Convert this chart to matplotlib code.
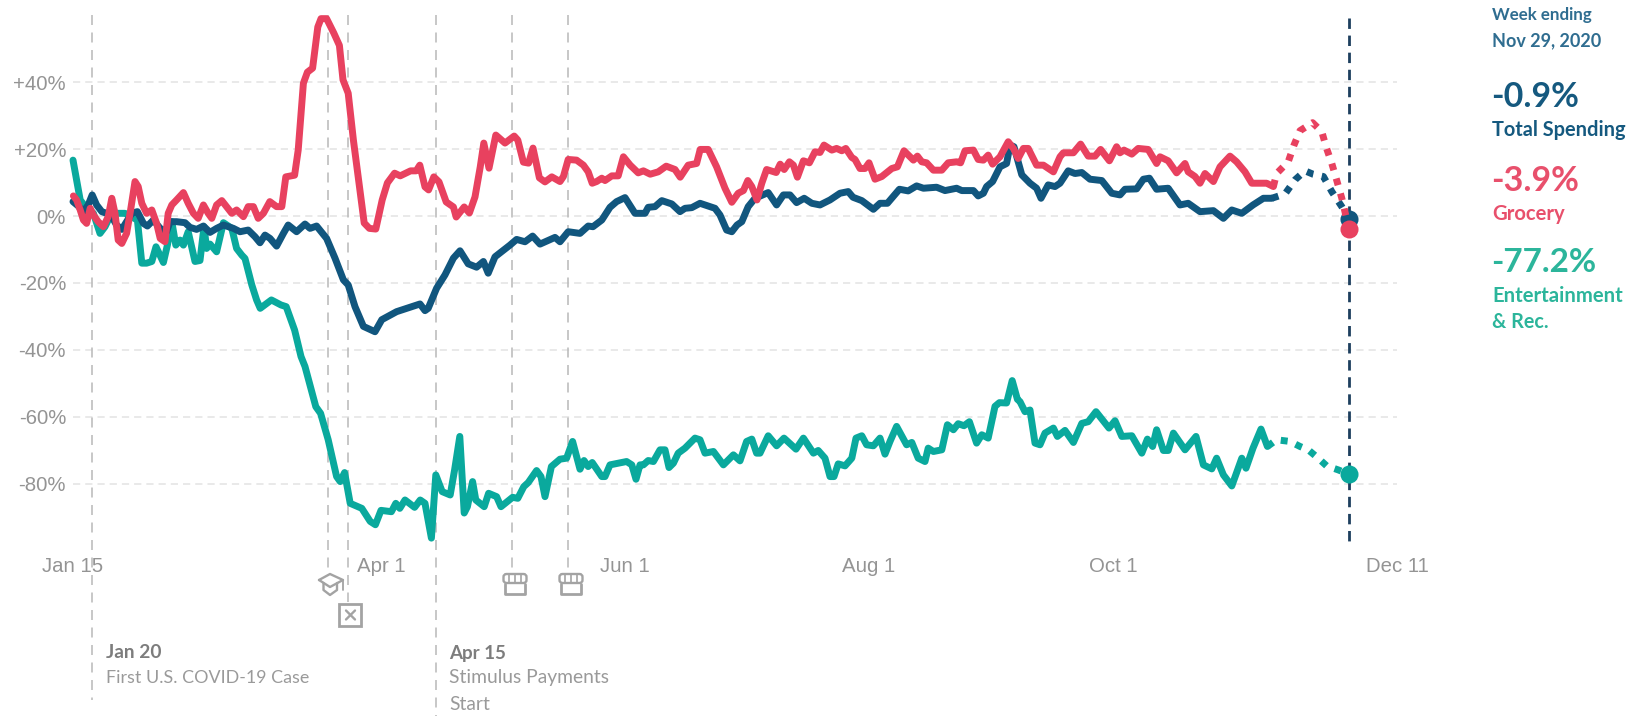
import matplotlib
matplotlib.use("Agg")
import matplotlib.pyplot as plt
from matplotlib.patches import Rectangle, FancyBboxPatch
from matplotlib.transforms import blended_transform_factory

grocery_days = [0.1,0.9,1.8,2.6,3.4,4.3,5.1,6.3,7.6,8.8,9.7,10.5,11.3,12.2,13.4,14.4,15.5,16.3,17.2,18.4,19.7,20.9,21.8,23,23.8,24.7,25.9,27.6,28.8,30.1,31.3,32.6,33.8,34.7,35.9,37.2,38.4,39.7,40.9,42.6,43.8,45.1,46.3,47.6,49.2,50.9,52.2,
 53.2,55.4,56.3,57.6,58.6,59.9,61.2,62,63.4,65.2,66.6,67.5,68.8,70.1,71.5,72.8,74.1,75.7,77.3,78.6,80.4,81.8,84.4,85.8,86.7,88,88.9,90.2,91.5,93.3,95.1,95.8,97.8,99.1,100.5,101.8,102.7,104,105.7,108,110.3,111.2,112.6,113.9,115,116.6,118,119.7,
 121.75,122.6,123.8,125.9,127.6,128.8,129.8,130.9,132.2,133,134.7,136.3,137.6,139.3,141.3,142.6,144.3,146.3,148.3,150.5,151.8,153.8,155.9,156.8,158.8,160.9,163,164.7,166.3,167.6,168.7,169.7,171,172.2,173.4,175.8,176.8,177.8,179.1,180.1,181.1,182.6,184.1,
 185.5,186.75,187.75,189.7,190.9,192.2,193.2,194.7,195.5,196.75,198,199,200.5,202.2,204.7,206.1,207.75,210.1,211.1,212.2,213.4,215.1,217.2,218.8,220.9,221.9,223,225.1,226.3,227.6,228.8,229.9,231.75,233.8,235.1,236.3,237.6,238.8,240.9,242.6,245.1,
 246.75,247.6,250.1,251.9,253.8,255.5,256.9,259.1,260.9,261.75,262.75,264.7,266.3,268.8,270.9,271.75,273.8,275.9,278,278.8,280.5,281.75,283,285.1,286.75,289.25,290.9,293,294.7,296.4,298.4,300.1]
grocery_vals = [6,4.8,1.8,-1.2,-2.2,2.3,0.3,-1.7,-3.2,-0.2,5.3,0.8,-7.2,-8.2,-5.2,1.8,10.3,8.8,3.8,0.8,1.8,-2.2,-6.7,-7.7,0.8,3.3,4.8,7,3.8,0.8,-0.7,3.3,0.8,-0.7,3.3,4.6,2.8,0.8,1.8,-0.2,2.8,2.8,-0.7,0.8,4.3,2.8,2.8,
 11.7,12.2,19.7,39.7,43,44.2,56.5,59,59,54.7,51,40.7,36.7,22.7,9.9,-2.1,-3.7,-3.9,4.8,9.9,12.8,12,13.5,13.5,15.2,8.7,7.8,11.7,10.2,4.2,2.7,-0.3,2.7,0.9,5.7,14.6,21.8,14.3,24.2,21.8,23.9,22.7,16.1,15.8,20.3,11.4,10.2,11.7,
 10.3,11.8,16.9,16.7,15.2,13.2,9.8,10.3,11.3,10.6,12,12,17.7,15.2,12.9,13.5,12.5,13.2,14.9,13.9,11.6,15.2,15.7,19.9,19.9,14.7,8.3,4.1,6.8,7.6,10.6,8.8,4.8,9.8,13.9,13,15.5,13.9,16.2,15.2,11.6,16.5,15.9,
 19.2,19,21.2,19.7,20.2,19.5,20.2,17.5,16.9,14.2,14.2,15.9,11,11.8,14.2,14.7,19.5,16.7,17.9,16.2,15.9,13.7,13.7,15.9,16.2,15.9,19.5,19.7,16.9,16.7,18.2,15.5,17.7,22.2,20.2,17.2,20.2,20.2,15.2,15.2,13.2,
 17.7,18.9,18.9,21.5,17.9,17.9,19.9,16.5,20.7,18.9,19.7,18.5,20.2,19.9,15.7,17.7,16.5,12.9,15.7,13.2,11.8,9.8,12.7,10.3,14.7,17.9,16.2,13.2,9.8,9.8,9.8,8.8]
grocery_proj_days = [300.1,300.9,303.8,305.25,306.75,309.9,312.2,313.4,314.7,315.9,317.2,319]
grocery_proj_vals = [8.8,12.7,16.2,21.2,25.5,27.9,25.2,20.2,15.7,10.8,5.3,-3.9]

total_days = [0,1.3,2.6,3.8,4.8,5.9,7.2,8.4,9.7,10.9,12.2,13.4,14.7,16.1,17.6,18.6,20.1,21.8,23.4,24.25,25.9,28,29.25,30.9,32.6,34.25,35.9,37.6,40.1,41.75,43.8,45.5,46.75,48,49.25,50.9,52.6,53.8,55.9,58,59.25,60.9,63.4,65.5,67.6,68.8,70.5,72.6,75.5,77.2,80.9,86.75,88,88.8,90.9,93,95.1,96.75,98.8,100.9,102.6,103.8,105.5,109.25,110.9,113,114.9,116.75,120.5,
 121.75,123.8,126.75,128.8,130,132.2,134.25,135.9,138,140.5,143,143.8,145.5,147.2,149.7,151.75,153,154.7,156.75,160.5,161.75,163.4,164.7,166,167.2,168.8,170.5,173.8,175.9,177.6,179.25,180.9,182.8,184.7,
 186.75,189.25,191.75,193.8,195,197.2,200.1,201.75,203.6,206.6,208.8,210.9,212.6,215.9,218,220.9,222.2,225.1,226.3,227.6,228.4,229.9,231.75,233.4,234.25,235.25,237.2,239.25,240.9,242,243.8,245.5,
 246.75,248.8,250.5,252.2,254.25,257.2,259.7,261.75,263,265.9,267.6,269.1,270.9,273.8,276.75,278.8,281.75,285.1,287.6,289.7,292.2,295,297.6,299.7]
total_vals = [4.3,3,1.3,3.3,6.3,3.3,1.3,0.8,-0.2,-2.7,-4,-1.7,0.8,1.3,-2.2,-3,-1.2,-3.7,-4.7,-1.7,-1.7,-2,-3.4,-4,-3,-4.9,-3.7,-2.7,-3.7,-4.7,-4.2,-6.2,-8,-5.7,-6.7,-9,-5.2,-2.7,-4.7,-2.4,-3.7,-3,-6.7,-12.6,-19.1,-20.6,-27.1,-33,-34.6,-31,-28.6,-26.3,-28.3,-27.6,-21.6,-17.6,-12.6,-10.4,-14.3,-15.3,-13.6,-17.1,-12.2,-8.7,-7,-7.7,-6,-8.4,-6.4,
 -7.7,-4.7,-5.2,-3,-3.2,-1.2,2.6,4.3,5.5,0.8,0.8,2.6,2.8,4.6,3.6,1.3,2.3,2.5,3.8,2.3,0.3,-4.2,-4.7,-2.7,-1.7,2.8,5.3,7,3.3,6.3,6.3,4,5.3,3.8,
 3.3,4.8,6.8,7.3,5.6,4.6,2,3.8,3.8,8,7.5,9,8.3,8.6,7.6,8.3,7.6,7.6,6,6.8,8.8,10.3,14.7,15.7,21.2,20.7,12.3,9.8,8.3,5.3,9.3,8.8,
 9.8,13.5,12.7,13,11,10.6,6.8,6.3,8,8.1,11,11.3,8,8.3,3.3,3.8,1.3,1.6,-0.7,1.8,0.8,3.3,5.3,5.3]
total_proj_days = [299.7,303,305.5,308,310,312.6,314.7,317.2,319]
total_proj_vals = [5.3,6.6,10.8,13.5,12.5,11.8,7.3,2.8,-0.9]

ent_days = [0,1.8,3.4,5.1,6.75,8,9.25,10.5,11.75,13,16.1,17.2,18.4,19.7,20.75,22.6,23.6,24.7,25.7,26.75,27.6,28.8,30.5,31.75,32.75,33.4,34.25,35.9,37.6,39.7,40.9,42.2,43,44.7,45.9,46.8,49.6,52,53.3,55.4,57,58,60.7,61.9,63.8,65.9,66.8,67.9,69.3,72.2,74.3,75.6,77,79.6,80.7,81.7,83,85.4,86.8,88,89.6,90.7,92.3,94.3,95.4,96.7,97.8,98.6,99.9,100.7,102.8,103.9,105.9,107,109.9,111.2,112.7,113.8,115.9,117,118,119.6,
 121.75,123.4,124.9,126.75,127.75,128.8,129.8,132.2,133,134.25,138.4,139.7,140.75,141.75,142.6,143.8,145.1,146.75,148,149,150.1,151.3,153,155.5,156.75,158,160.1,162.6,165.1,166.75,168.4,169.7,170.9,171.75,173.8,175.9,177.75,180.75,182.6,
 185.1,186.3,188,189.25,190.25,191.3,193,194.7,195.75,197.2,198.4,200.1,201.75,203,204.25,205.9,208.4,209.7,211.3,213,213.8,215.1,217.2,218.6,220.1,221.3,222.75,224.1,225.9,227.2,228.8,230.5,231.6,233.4,234.8,236.1,236.75,238,239.25,240.5,241.75,243,245.1,
 246.1,248,250.1,252.2,253.8,255.75,259,260.5,262.2,264.7,267.2,268.6,269.9,270.9,272.6,273.8,275.1,278,280.75,282.6,284.7,285.9,287.6,289.7,292.2,293.25,295,297,298.6]
ent_vals = [16.7,4.8,2.3,0.8,-5.2,-3.2,-0.2,0.8,0.8,0.8,-1.2,-14.1,-14.1,-13.6,-9.2,-13.9,-8.7,-1.7,-8.7,-7.2,-8.7,-4.7,-13.6,-13.3,-3.2,-9.7,-8.4,-10.7,-2,-3.7,-9.7,-11.7,-12.7,-20.6,-25.1,-27.6,-25.1,-26.6,-27.1,-34.1,-42,-45,-57,-59,-66.9,-77.9,-79.4,-76.7,-85.9,-87.4,-91.3,-92.3,-88,-88.4,-85.9,-87.4,-84.9,-87.1,-84.9,-85.9,-96.3,-77.4,-82.4,-83.4,-75.9,-65.9,-88.8,-86.9,-79.4,-84.9,-86.9,-82.9,-83.9,-86.9,-84.1,-84.4,-80.9,-79.7,-76.1,-77.9,-83.9,-74.9,
 -72.7,-72.4,-67.4,-75.7,-73.1,-74.9,-73.7,-77.9,-77.9,-74.4,-73.4,-74.4,-78.7,-74.4,-74.4,-73.1,-73.4,-69.9,-69.9,-75.2,-73.9,-70.9,-69.4,-66.4,-66.9,-70.9,-70.4,-74.4,-71.4,-73.2,-67.4,-66.7,-70.9,-70.9,-65.7,-68.7,-66.4,-69.7,-66.4,
 -70.9,-70.1,-72.4,-77.9,-77.9,-74.1,-74.7,-72.4,-66.4,-65.7,-68.4,-68.7,-66.4,-71.2,-67.4,-62.9,-68.4,-67.7,-72.4,-73.4,-69.4,-70.4,-69.9,-62.4,-63.9,-62.1,-62.7,-61.5,-67.9,-65.4,-66.4,-56.9,-55.8,-55.9,-49.2,-54.8,-55.5,-58.5,-58,-67.9,-68.4,-64.9,-63.4,
 -65.9,-64.1,-67.7,-62,-61.5,-58.5,-63.4,-61.2,-65.9,-65.7,-70.9,-66.7,-68.9,-63.9,-70.1,-70.1,-64.9,-69.9,-65.9,-74.4,-75.6,-72.4,-77.4,-80.7,-72.4,-75.4,-69.4,-63.7,-68.9]
ent_proj_days = [298.6,300.9,304.25,306.75,308.8,311.3,313.4,316.3,319]
ent_proj_vals = [-68.9,-66.9,-67.4,-68.9,-69.9,-72.4,-74.7,-75.9,-77.2]

x_ticks = [0, 77, 138, 199, 260, 331]
x_labels = ["Jan 15", "Apr 1", "Jun 1", "Aug 1", "Oct 1", "Dec 11"]
y_ticks = [40, 20, 0, -20, -40, -60, -80]
y_labels = ["+40%", "+20%", "0%", "-20%", "-40%", "-60%", "-80%"]
event_days = [4.75, 63.75, 68.75, 90.75, 109.75, 123.75]

W, H = 1629, 716
plt.rcParams['lines.scale_dashes'] = False
fig = plt.figure(figsize=(W/100, H/100), dpi=100, facecolor="white")

L, R, T, B = 73, 1397, 18, 540
ax = fig.add_axes([L/W, 1-B/H, (R-L)/W, (B-T)/H])
ax.set_xlim(0, 331)
ax.set_ylim((216-B)/3.345, (216-T)/3.345)
ax.patch.set_alpha(0)
for s in ax.spines.values():
    s.set_visible(False)
ax.set_xticks(x_ticks, x_labels)
ax.set_yticks(y_ticks, y_labels)
TICK = "#949494"
ax.tick_params(axis="x", length=0, pad=12, labelsize=14.7, labelcolor=TICK)
ax.tick_params(axis="y", length=0, pad=5, labelsize=14.7, labelcolor=TICK)
for lab in ax.get_xticklabels() + ax.get_yticklabels():
    lab.set_family("Liberation Sans")
ax.yaxis.grid(True, color="#e3e3e3", lw=1.1, linestyle=(0, (5.2, 3.6)), zorder=0)
ax.xaxis.grid(False)
ax.set_axisbelow(True)

ov = fig.add_axes([0, 0, 1, 1], zorder=5)
ov.set_xlim(0, W)
ov.set_ylim(H, 0)
ov.axis("off")
ov.patch.set_alpha(0)
tr = blended_transform_factory(ax.transData, ov.transData)

event_ends = [700, 572, 602, 716, 570, 570]
VC = "#bdbdbd"
for d, e in zip(event_days, event_ends):
    ax.plot([d, d], [15, e], transform=tr, color=VC, lw=1.2, linestyle=(0, (7.2, 5.4)),
            clip_on=False, zorder=1)
ax.plot([319, 319], [18, 541], transform=tr, color="#1d3f5e", lw=2, linestyle=(0, (7.5, 4.8)),
        clip_on=False, zorder=1.5)

BLUE, RED, GREEN = "#11567e", "#e8415f", "#0aa99d"
LW = 5.0
DASH = (0, (5, 6.2))
series = [(ent_days, ent_vals, ent_proj_days, ent_proj_vals, GREEN, 2),
          (total_days, total_vals, total_proj_days, total_proj_vals, BLUE, 3),
          (grocery_days, grocery_vals, grocery_proj_days, grocery_proj_vals, RED, 4)]
for xs, ys, px, py, c, z in series:
    ax.plot(xs, ys, color=c, lw=LW, solid_joinstyle="round", solid_capstyle="round", clip_on=False, zorder=z)
    ax.plot(px, py, color=c, lw=LW, linestyle=DASH, dash_capstyle="butt", clip_on=False, zorder=z)
    ax.plot(px[-1], py[-1], "o", color=c, ms=13, mew=0, clip_on=False, zorder=z + 0.5)

# event icons
IC = "#a3a3a3"
ilw = 1.7
def pl(xs, ys, lw=ilw):
    ov.plot(xs, ys, color=IC, lw=lw, solid_capstyle="round", solid_joinstyle="round")
# graduation cap
pl([319, 330, 343, 330, 319], [580, 574, 580, 587, 580])
pl([323.5, 323.5, 330, 337, 337], [583, 590, 595, 590, 583])
pl([343, 343], [580, 590], 1.3)
# closure box
ov.add_patch(Rectangle((339.5, 604), 21.5, 21.5, fill=False, ec=IC, lw=2))
pl([346, 355], [610.5, 619.5]); pl([355, 346], [610.5, 619.5])
# stores
for x0 in (503.5, 559.5):
    ov.add_patch(FancyBboxPatch((x0, 574), 23, 9, boxstyle="round,pad=0,rounding_size=3", fill=False, ec=IC, lw=ilw))
    for k in (5.7, 11.5, 17.3):
        pl([x0 + k, x0 + k], [574, 583], 1.2)
    pl([x0 + 1.5, x0 + 1.5, x0 + 21.5, x0 + 21.5], [584, 594, 594, 584], 2)

F = "Lato"
def t(x, y, s, c, size, bold=False):
    ov.text(x, y, s, color=c, fontsize=size, family=F, fontweight="bold" if bold else "normal",
            ha="left", va="center")

t(1492, 15, "Week ending", "#2f6d90", 12.2, True)
t(1492, 41, "Nov 29, 2020", "#2f6d90", 13, True)
t(1491, 97, "-0.9%", "#15597f", 24.5, True)
t(1492, 130, "Total Spending", "#15597f", 14.4, True)
t(1491, 181, "-3.9%", "#e8506c", 24.5, True)
t(1492, 214, "Grocery", "#e8506c", 14.6, True)
t(1491, 263, "-77.2%", "#2cb59b", 24, True)
t(1492, 296, "Entertainment", "#2cb59b", 14.6, True)
t(1492, 322, "& Rec.", "#2cb59b", 14.2, True)

t(106, 653, "Jan 20", "#7d7d7d", 13.8, True)
t(106, 678, "First U.S. COVID-19 Case", "#9a9a9a", 12.9)
t(449.5, 653, "Apr 15", "#7d7d7d", 13.5, True)
t(449.5, 678, "Stimulus Payments", "#9a9a9a", 13.9)
t(449.5, 704, "Start", "#9a9a9a", 13.9)

fig.savefig("out.png", dpi=100)
